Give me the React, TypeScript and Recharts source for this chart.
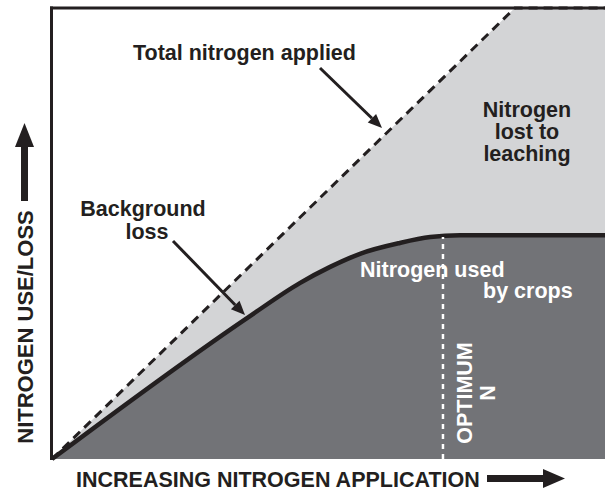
import { ComposedChart, Area, XAxis, YAxis, ReferenceLine } from "recharts";

// x: nitrogen applied (0-100), y: nitrogen use/loss (0-100)
const xSteps = [0, 35.8, 44.8, 50.3, 55.7, 62.9, 68.4, 73.8, 83.7, 100];
const totalApplied = [0, null, null, null, null, null, null, null, 100, 100];
const cropUptake = [0, 31.7, 39.0, 42.6, 45.5, 47.9, 49.2, 49.6, null, 49.6];
const optimumN = 70.7;
const optimumTop = 49.2;

const data = xSteps.map((x, i) => ({
  x,
  total: totalApplied[i],
  crop: cropUptake[i],
}));

const INK = "#231f20";
const LIGHT = "#d3d4d6";
const DARK = "#727377";
const FONT = "'Liberation Sans', Arial, Helvetica, sans-serif";

const W = 605;
const H = 493;

// straight leader line with a filled triangular head at (x2, y2)
function Pointer({ x1, y1, x2, y2 }: { x1: number; y1: number; x2: number; y2: number }) {
  const a = Math.atan2(y2 - y1, x2 - x1);
  const len = 14;
  const half = 6;
  const bx = x2 - len * Math.cos(a);
  const by = y2 - len * Math.sin(a);
  const px = -Math.sin(a) * half;
  const py = Math.cos(a) * half;
  return (
    <g>
      <line x1={x1} y1={y1} x2={bx} y2={by} stroke={INK} strokeWidth={3} />
      <path d={`M${x2},${y2} L${bx + px},${by + py} L${bx - px},${by - py} z`} fill={INK} />
    </g>
  );
}

function Overlay() {
  const txt = { fontFamily: FONT, fontWeight: 700, fontSize: 21.5, fill: INK };
  const white = { ...txt, fill: "#ffffff" };
  return (
    <svg
      width={W}
      height={H}
      style={{ position: "absolute", left: 0, top: 0, pointerEvents: "none" }}
    >
      {/* frame: top and left */}
      <line x1={50} y1={8} x2={W} y2={8} stroke={INK} strokeWidth={3} />
      <line x1={51.5} y1={6.5} x2={51.5} y2={460} stroke={INK} strokeWidth={3} />

      <text x={133} y={60} {...txt}>Total nitrogen applied</text>
      <Pointer x1={320} y1={68} x2={382} y2={128} />

      <text x={527} y={117} textAnchor="middle" {...txt}>Nitrogen</text>
      <text x={527} y={139} textAnchor="middle" {...txt}>lost to</text>
      <text x={527} y={161} textAnchor="middle" {...txt}>leaching</text>

      <text x={143} y={216} textAnchor="middle" {...txt}>Background</text>
      <text x={147} y={239} textAnchor="middle" {...txt}>loss</text>
      <Pointer x1={173} y1={241} x2={245} y2={315} />

      <text x={360} y={277} {...white}>Nitrogen used</text>
      <text x={483} y={298} {...white}>by crops</text>

      <text x={472} y={393} transform="rotate(-90 472 393)" textAnchor="middle" {...white}>OPTIMUM</text>
      <text x={495} y={393} transform="rotate(-90 495 393)" textAnchor="middle" {...white}>N</text>

      <text x={33} y={327} transform="rotate(-90 33 327)" textAnchor="middle" {...txt} fontSize={22}>
        NITROGEN USE/LOSS
      </text>
      <rect x={21} y={145} width={7} height={56} fill={INK} />
      <path d="M24.5,123 L34,147 L15,147 z" fill={INK} />

      <text x={76} y={487} {...txt}>INCREASING NITROGEN APPLICATION</text>
      <rect x={487} y={475} width={60} height={7} fill={INK} />
      <path d="M565,478.5 L543,469 L543,488 z" fill={INK} />
    </svg>
  );
}

export default function App() {
  return (
    <div style={{ position: "absolute", left: 0, top: 0, width: W, height: H, background: "#fff" }}>
      <ComposedChart
        width={W}
        height={H}
        data={data}
        margin={{ top: 8, right: 0, bottom: 34, left: 52 }}
      >
        <XAxis
          type="number"
          dataKey="x"
          domain={[0, 100]}
          height={0}
          tick={false}
          tickLine={false}
          axisLine={{ stroke: INK, strokeWidth: 3 }}
        />
        <YAxis type="number" domain={[0, 100]} width={0} hide />
        <Area
          type="linear"
          dataKey="total"
          connectNulls
          fill={LIGHT}
          fillOpacity={1}
          stroke={INK}
          strokeWidth={3}
          strokeDasharray="9 6"
          isAnimationActive={false}
          dot={false}
          activeDot={false}
        />
        <Area
          type="monotone"
          dataKey="crop"
          connectNulls
          fill={DARK}
          fillOpacity={1}
          stroke={INK}
          strokeWidth={4.5}
          isAnimationActive={false}
          dot={false}
          activeDot={false}
        />
        <ReferenceLine
          segment={[
            { x: optimumN, y: 0 },
            { x: optimumN, y: optimumTop },
          ]}
          stroke="#ffffff"
          strokeWidth={2.5}
          strokeDasharray="5 5"
        />
      </ComposedChart>
      <Overlay />
    </div>
  );
}
